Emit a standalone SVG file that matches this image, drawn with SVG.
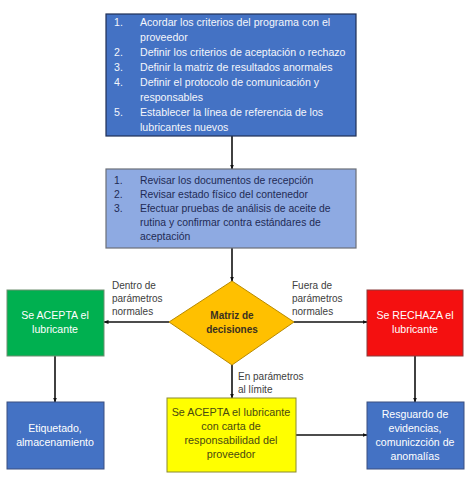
<svg xmlns="http://www.w3.org/2000/svg" width="475" height="500" viewBox="0 0 475 500">
<defs>
<marker id="ah" viewBox="0 0 10 10" refX="9" refY="5" markerWidth="5" markerHeight="5" orient="auto" markerUnits="userSpaceOnUse">
<path d="M0,1 L10,5 L0,9 z" fill="#111"/>
</marker>
<style>
text{font-family:"Liberation Sans",Arial,sans-serif;font-size:10px}
.w{fill:#ffffff}
.t1 text{font-size:10.6px;fill:#f4f6fb}
.t2 text{font-size:10.4px;fill:#1f2a55}
.lb{fill:#404040;font-size:10px}
.c{text-anchor:middle}
.b{font-weight:bold}
.m{font-size:10.6px}
.cn line{stroke:#111;stroke-width:1.6;marker-end:url(#ah)}
</style>
</defs>
<rect width="475" height="500" fill="#ffffff"/>

<g class="cn" id="connectors">
<line x1="232" y1="136" x2="232" y2="169"/>
<line x1="232" y1="248" x2="232" y2="281"/>
<line x1="169" y1="322" x2="104" y2="322"/>
<line x1="294" y1="322" x2="367" y2="322"/>
<line x1="232" y1="365" x2="232" y2="398"/>
<line x1="55" y1="356" x2="55" y2="402"/>
<line x1="415" y1="356" x2="415" y2="402"/>
<line x1="296" y1="435" x2="367" y2="435"/>
</g>

<g id="labels">
<text class="lb" x="112" y="289">Dentro de</text>
<text class="lb" x="112" y="302">parámetros</text>
<text class="lb" x="112" y="315">normales</text>
<text class="lb" x="292" y="289">Fuera de</text>
<text class="lb" x="292" y="302">parámetros</text>
<text class="lb" x="292" y="315">normales</text>
<text class="lb" x="238" y="380">En parámetros</text>
<text class="lb" x="238" y="393">al límite</text>
</g>

<g id="n1" class="t1">
<rect x="106" y="14" width="250" height="122" fill="#4472c4" stroke="#1f2f55" stroke-width="1.2"/>
<text x="114" y="26">1.</text><text x="140" y="26">Acordar los criterios del programa con el</text>
<text x="140" y="41">proveedor</text>
<text x="114" y="56">2.</text><text x="140" y="56">Definir los criterios de aceptación o rechazo</text>
<text x="114" y="71">3.</text><text x="140" y="71">Definir la matriz de resultados anormales</text>
<text x="114" y="86">4.</text><text x="140" y="86">Definir el protocolo de comunicación y</text>
<text x="140" y="101">responsables</text>
<text x="114" y="116">5.</text><text x="140" y="116">Establecer la línea de referencia de los</text>
<text x="140" y="131">lubricantes nuevos</text>
</g>

<g id="n2" class="t2">
<rect x="106" y="169" width="250" height="79" fill="#8eaae2" stroke="#6b6f78" stroke-width="1.2"/>
<text x="114" y="184">1.</text><text x="140" y="184">Revisar los documentos de recepción</text>
<text x="114" y="198">2.</text><text x="140" y="198">Revisar estado físico del contenedor</text>
<text x="114" y="212">3.</text><text x="140" y="212">Efectuar pruebas de análisis de aceite de</text>
<text x="140" y="226">rutina y confirmar contra estándares de</text>
<text x="140" y="240">aceptación</text>
</g>

<g id="n3">
<polygon points="232,281 294,322 232,365 169,322" fill="#ffc000" stroke="#b88a00" stroke-width="1"/>
<text class="c b" x="232" y="319" fill="#3a3020">Matriz de</text>
<text class="c b" x="232" y="333" fill="#3a3020">decisiones</text>
</g>

<g id="n4">
<rect x="7" y="290" width="97" height="66" fill="#00b050" stroke="#6f8f70" stroke-width="1"/>
<text class="w c m" x="55" y="319">Se ACEPTA el</text>
<text class="w c m" x="55" y="333">lubricante</text>
</g>

<g id="n5">
<rect x="367" y="290" width="96" height="66" fill="#f41010" stroke="#8a3a3a" stroke-width="1"/>
<text class="w c m" x="415" y="319">Se RECHAZA el</text>
<text class="w c m" x="415" y="333">lubricante</text>
</g>

<g id="n6">
<rect x="7" y="402" width="97" height="67" fill="#4472c4" stroke="#3a4f80" stroke-width="1"/>
<text class="w c m" x="55" y="432">Etiquetado,</text>
<text class="w c m" x="55" y="446">almacenamiento</text>
</g>

<g id="n7">
<rect x="167" y="398" width="129" height="74" fill="#ffff00" stroke="#8a8a30" stroke-width="1"/>
<text class="c" x="231" y="416" fill="#4a4a10" style="font-size:10.8px">Se ACEPTA el lubricante</text>
<text class="c" x="231" y="430" fill="#4a4a10" style="font-size:10.8px">con carta de</text>
<text class="c" x="231" y="444" fill="#4a4a10" style="font-size:10.8px">responsabilidad del</text>
<text class="c" x="231" y="458" fill="#4a4a10" style="font-size:10.8px">proveedor</text>
</g>

<g id="n8">
<rect x="367" y="402" width="97" height="67" fill="#4472c4" stroke="#3a4f80" stroke-width="1"/>
<text class="w c m" x="415" y="418">Resguardo de</text>
<text class="w c m" x="415" y="432">evidencias,</text>
<text class="w c m" x="415" y="446">comuniczción de</text>
<text class="w c m" x="415" y="460">anomalías</text>
</g>
</svg>
